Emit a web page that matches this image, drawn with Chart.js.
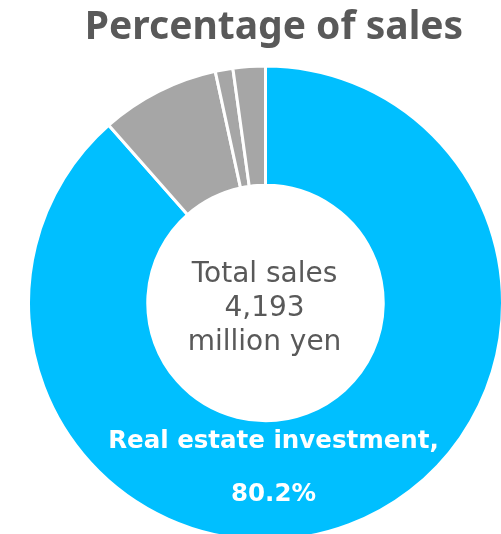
<!DOCTYPE html>
<html>
<head>
<meta charset="utf-8">
<script src="https://cdn.jsdelivr.net/npm/chart.js@4/dist/chart.umd.min.js"></script>
<style>
  html, body { margin: 0; padding: 0; background: #fff; overflow: hidden; }
  #wrap { position: relative; width: 501px; height: 560px; }
</style>
</head>
<body>
<div id="wrap"><canvas id="canvas"></canvas></div>
<script>
// segments clockwise from 12 o'clock
var categories = ['Real estate investment', 'Other A', 'Other B', 'Other C'];
var shares = [88.5, 8.1, 1.2, 2.2];
var sliceColors = ['#00BFFF', '#A6A6A6', '#A6A6A6', '#A6A6A6'];
var titleText = 'Percentage of sales';
var centerLines = ['Total sales', '4,193', 'million yen'];
var mainLabel = ['Real estate investment,', '80.2%'];

var textPlugin = {
	id: 'texts',
	afterDraw: function(chart) {
		var ctx = chart.ctx;
		var arc = chart.getDatasetMeta(0).data[0];
		var cx = arc.x, cy = arc.y;
		ctx.save();
		ctx.textAlign = 'center';
		ctx.textBaseline = 'alphabetic';

		// title
		ctx.fillStyle = '#595959';
		ctx.font = 'bold 39px "Noto Sans", sans-serif';
		ctx.fillText(titleText, 274, 39);

		// centre text
		ctx.font = '28px "DejaVu Sans", sans-serif';
		ctx.fillText(centerLines[0], cx - 1, cy - 21);
		ctx.fillText(centerLines[1], cx - 1, cy + 13);
		ctx.fillText(centerLines[2], cx - 1, cy + 47);

		// data label on the blue slice
		ctx.fillStyle = '#ffffff';
		ctx.font = 'bold 24.5px "DejaVu Sans", sans-serif';
		ctx.fillText(mainLabel[0], cx + 8, cy + 145);
		ctx.fillText(mainLabel[1], cx + 8, cy + 198);
		ctx.restore();
	}
};

function loadChart() {
	var ctx = document.getElementById('canvas').getContext('2d');
	window.myChart = new Chart(ctx, {
		type: 'doughnut',
		data: {
			labels: categories,
			datasets: [{
				data: shares,
				backgroundColor: sliceColors,
				borderColor: '#ffffff',
				borderWidth: 3,
				hoverOffset: 0
			}]
		},
		options: {
			responsive: true,
			maintainAspectRatio: false,
			animation: false,
			radius: 237,
			cutout: 116,
			layout: {
				padding: { left: 30, right: 0, top: 68, bottom: 22 }
			},
			plugins: {
				legend: { display: false },
				title: { display: false },
				tooltip: { enabled: false }
			}
		},
		plugins: [textPlugin]
	});
}
loadChart();
</script>
</body>
</html>
